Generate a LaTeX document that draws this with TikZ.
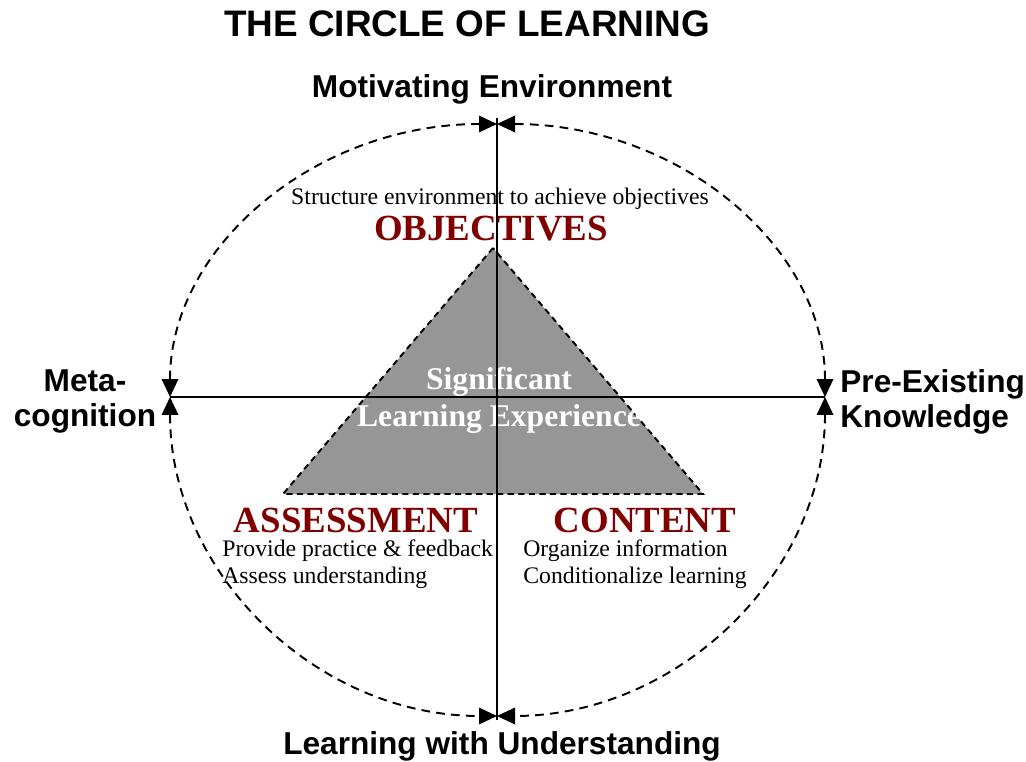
\documentclass[tikz,border=0pt]{standalone}
\usepackage{fontspec}
\setmainfont{Liberation Serif}
\newfontfamily\labelfont{Liberation Sans}
\usepackage{xcolor}
\definecolor{stagered}{HTML}{800000}
\definecolor{coregray}{HTML}{969696}
\usepackage{tikz}
\usetikzlibrary{arrows.meta}

\tikzset{
  axisline/.style={line width=1.3pt},
  cyclearc/.style={line width=1.1pt, dash pattern=on 5pt off 3.5pt,
    {Triangle[length=0.36cm,width=0.33cm]}-{Triangle[length=0.36cm,width=0.33cm]}},
  sidelabel/.style={font=\labelfont\fontsize{18}{20}\selectfont\bfseries, inner sep=0pt},
  stagename/.style={font=\fontsize{21}{23}\selectfont\bfseries, text=stagered, inner sep=0pt},
  stagenote/.style={font=\fontsize{13.5}{15.8}\selectfont, inner sep=0pt}
}

\begin{document}
\begin{tikzpicture}[x=0.02cm, y=0.02cm]
\useasboundingbox (0,0) rectangle (1026,761);

% Axis end points
\coordinate (ctr) at (497,364);
\coordinate (lft) at (170,364);
\coordinate (rgt) at (825,364);
\coordinate (vtop) at (497,643);
\coordinate (vbot) at (497,41);

% Core triangle
\coordinate (apex) at (493,513);
\coordinate (bl) at (283,267);
\coordinate (br) at (703,267);
\fill[coregray] (apex) -- (bl) -- (br) -- cycle;
\draw[line width=1.1pt, dash pattern=on 3.5pt off 2.5pt] (apex) -- (bl) -- (br) -- cycle;

% Title
\node[font=\labelfont\fontsize{21}{23}\selectfont\bfseries, anchor=base, inner sep=0pt] (title) at (467,724) {THE CIRCLE OF LEARNING};

% Labels around the circle
\node[sidelabel, anchor=base] (motiv) at (492,663) {Motivating Environment};
\node[sidelabel, anchor=base] (underst) at (502,7) {Learning with Understanding};
\node[sidelabel, anchor=north, align=center] (meta) at (85,392) {Meta-\\cognition};
\node[sidelabel, anchor=north west, align=left] (preknow) at (840,392) {Pre-Existing\\Knowledge};

% Objectives
\node[stagenote, anchor=base] (objnote) at (500,556) {Structure environment to achieve objectives};
\node[stagename, anchor=base] (obj) at (491,520) {OBJECTIVES};

% Centre of the triangle
\node[font=\fontsize{18}{21}\selectfont\bfseries, text=white, align=center, anchor=north, inner sep=0pt] (core) at (499,394) {Significant\\Learning Experience};

% Assessment and content
\node[stagename, anchor=base] (assess) at (356,229) {ASSESSMENT};
\node[stagenote, anchor=north west, align=left] (assessnote) at (222,222) {Provide practice \& feedback\\Assess understanding};
\node[stagename, anchor=base] (content) at (645,229) {CONTENT};
\node[stagenote, anchor=north west, align=left] (contentnote) at (523,222) {Organize information\\Conditionalize learning};

% Axes
\draw[axisline] (vtop) -- (vbot);
\draw[axisline] (lft) -- (rgt);

% Dashed circle, one arc per quarter
\draw[cyclearc] (lft) arc[start angle=180, end angle=90, x radius=327, y radius=273];
\draw[cyclearc] (rgt) arc[start angle=0, end angle=90, x radius=328, y radius=273];
\draw[cyclearc] (lft) arc[start angle=180, end angle=270, x radius=327, y radius=319];
\draw[cyclearc] (rgt) arc[start angle=0, end angle=-90, x radius=328, y radius=319];
\end{tikzpicture}
\end{document}
